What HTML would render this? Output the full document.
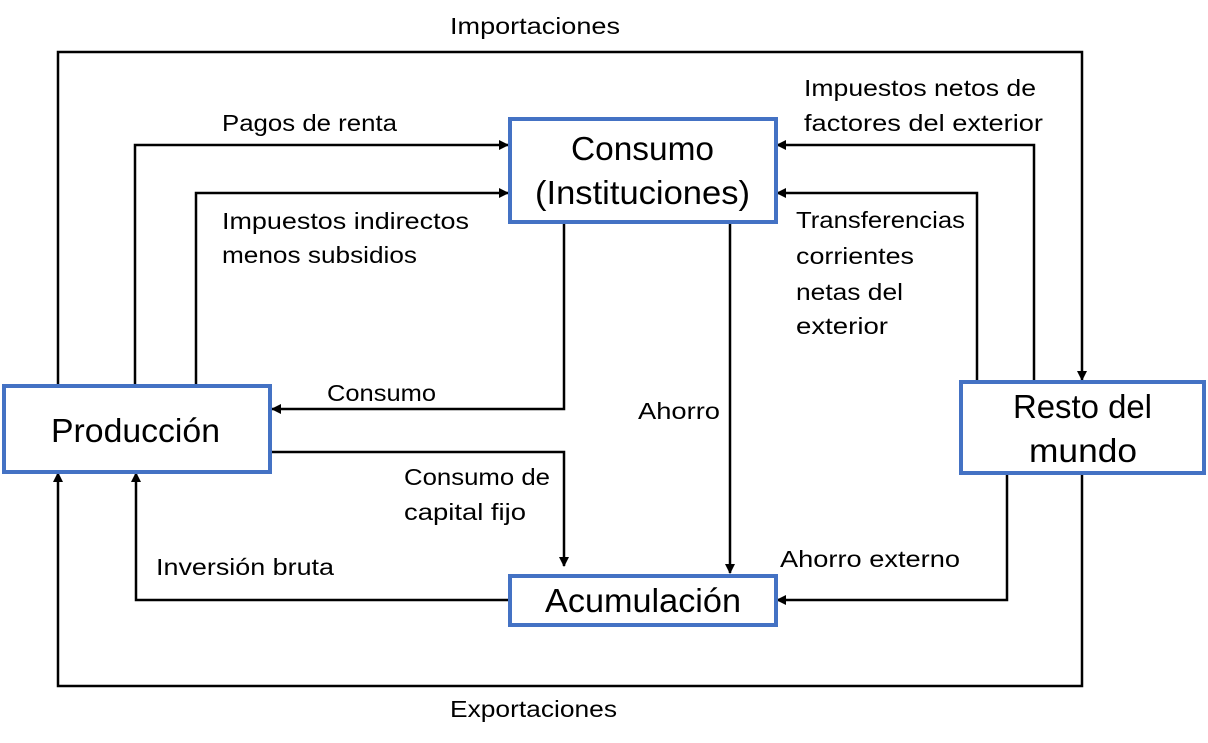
<!DOCTYPE html>
<html><head><meta charset="utf-8"><style>
html,body{margin:0;padding:0;background:#fff;}
svg{display:block;}
text{font-family:"Liberation Sans",sans-serif;fill:#000;}
.l{font-size:23px;}
.b{font-size:33px;}
</style></head><body>
<svg width="1208" height="743" viewBox="0 0 1208 743" xmlns="http://www.w3.org/2000/svg">
<defs><marker id="a" markerWidth="10" markerHeight="10" refX="9" refY="5" orient="auto" markerUnits="userSpaceOnUse"><path d="M0,0 L10,5 L0,10 z" fill="#000"/></marker></defs>
<g stroke="#000" stroke-width="2.5" fill="none">
<polyline points="58,385 58,52 1082,52 1082,380" marker-end="url(#a)"/>
<polyline points="1082,474 1082,686 58,686 58,473" marker-end="url(#a)"/>
<polyline points="135,385 135,145 508,145" marker-end="url(#a)"/>
<polyline points="196,385 196,193 508,193" marker-end="url(#a)"/>
<polyline points="1034,381 1034,145 777,145" marker-end="url(#a)"/>
<polyline points="977,381 977,193 777,193" marker-end="url(#a)"/>
<polyline points="564,224 564,409 272,409" marker-end="url(#a)"/>
<polyline points="730,224 730,573" marker-end="url(#a)"/>
<polyline points="272,452 564,452 564,566" marker-end="url(#a)"/>
<polyline points="509,600 136,600 136,473" marker-end="url(#a)"/>
<polyline points="1007,474 1007,600 777,600" marker-end="url(#a)"/>
</g>
<g stroke="#4472C4" stroke-width="4" fill="#fff">
<rect x="510" y="119" width="266" height="103"/>
<rect x="4" y="386" width="266" height="86"/>
<rect x="961" y="382" width="243" height="91"/>
<rect x="510" y="576" width="266" height="49"/>
</g>
<g class="b" lengthAdjust="spacingAndGlyphs">
<text x="571" y="160" textLength="143" lengthAdjust="spacingAndGlyphs">Consumo</text>
<text x="535" y="204" textLength="215" lengthAdjust="spacingAndGlyphs">(Instituciones)</text>
<text x="51" y="442" textLength="169" lengthAdjust="spacingAndGlyphs">Producción</text>
<text x="1013" y="418" textLength="139" lengthAdjust="spacingAndGlyphs">Resto del</text>
<text x="1029" y="462" textLength="108" lengthAdjust="spacingAndGlyphs">mundo</text>
<text x="545" y="612" textLength="196" lengthAdjust="spacingAndGlyphs">Acumulación</text>
</g>
<g class="l">
<text x="450" y="34" textLength="170" lengthAdjust="spacingAndGlyphs">Importaciones</text>
<text x="450" y="717" textLength="167" lengthAdjust="spacingAndGlyphs">Exportaciones</text>
<text x="222" y="131" textLength="175" lengthAdjust="spacingAndGlyphs">Pagos de renta</text>
<text x="222" y="229" textLength="247" lengthAdjust="spacingAndGlyphs">Impuestos indirectos</text>
<text x="222" y="263" textLength="195" lengthAdjust="spacingAndGlyphs">menos subsidios</text>
<text x="804" y="96" textLength="232" lengthAdjust="spacingAndGlyphs">Impuestos netos de</text>
<text x="804" y="131" textLength="239" lengthAdjust="spacingAndGlyphs">factores del exterior</text>
<text x="796" y="228" textLength="169" lengthAdjust="spacingAndGlyphs">Transferencias</text>
<text x="796" y="264" textLength="118" lengthAdjust="spacingAndGlyphs">corrientes</text>
<text x="796" y="300" textLength="107" lengthAdjust="spacingAndGlyphs">netas del</text>
<text x="796" y="334" textLength="92" lengthAdjust="spacingAndGlyphs">exterior</text>
<text x="327" y="401" textLength="109" lengthAdjust="spacingAndGlyphs">Consumo</text>
<text x="638" y="419" textLength="82" lengthAdjust="spacingAndGlyphs">Ahorro</text>
<text x="404" y="485" textLength="146" lengthAdjust="spacingAndGlyphs">Consumo de</text>
<text x="404" y="520" textLength="122" lengthAdjust="spacingAndGlyphs">capital fijo</text>
<text x="156" y="575" textLength="178" lengthAdjust="spacingAndGlyphs">Inversión bruta</text>
<text x="780" y="567" textLength="180" lengthAdjust="spacingAndGlyphs">Ahorro externo</text>
</g>
</svg>
</body></html>
